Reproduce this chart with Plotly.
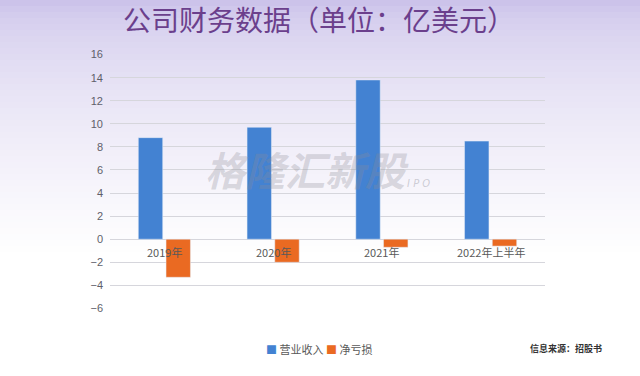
import plotly.graph_objects as go

categories = ["2019年", "2020年", "2021年", "2022年上半年"]
revenue = [8.8, 9.7, 13.8, 8.5]
net_loss = [-3.3, -2.0, -0.7, -0.6]
series_names = ["营业收入", "净亏损"]
y_ticks = [-6, -4, -2, 0, 2, 4, 6, 8, 10, 12, 14, 16]

BLUE = "#4382d2"
ORANGE = "#ea6a22"
FONT = "Noto Sans CJK SC"

W, H = 640, 376
ML, MR, MT, MB = 110, 95, 54, 67
PH = H - MT - MB
PW = W - ML - MR

fig = go.Figure()
fig.add_trace(go.Bar(x=categories, y=revenue, name=series_names[0], marker_color=BLUE))
fig.add_trace(go.Bar(x=categories, y=net_loss, name=series_names[1], marker_color=ORANGE))

# background gradient (lavender at top fading to white)
shapes = []
top = (198, 188, 232)
step = 6
for py in range(0, 260, step):
    t = min(1.0, (py + step / 2) / 255) ** 0.5
    col = tuple(int(c + (255 - c) * t) for c in top)
    y1 = (H - MB - py) / PH
    y0 = (H - MB - py - step - 0.5) / PH
    shapes.append(dict(type="rect", xref="paper", yref="paper",
                       x0=-ML / PW, x1=1 + MR / PW,
                       y0=y0, y1=y1, fillcolor=f"rgb{col}",
                       line_width=0, layer="below"))

annotations = []
for c in categories:
    annotations.append(dict(x=c, y=0, xref="x", yref="y", text=c, showarrow=False,
                            yshift=-13, font=dict(family=FONT, size=11, color="#595959")))
annotations.append(dict(x=0.48, y=(H - MB - 19) / PH, xref="paper", yref="paper",
                        yanchor="middle", text="公司财务数据（单位：亿美元）", showarrow=False,
                        font=dict(family=FONT, size=28, color="#6b3f8c")))
annotations.append(dict(x=(307 - ML) / PW, y=(H - MB - 169) / PH, xref="paper", yref="paper",
                        text="<i><b>格隆汇新股</b></i>", showarrow=False,
                        font=dict(family=FONT, size=40, color="rgba(140,140,150,0.30)")))
annotations.append(dict(x=(432 - ML) / PW, y=(H - MB - 183) / PH, xref="paper", yref="paper",
                        text="<i>I P O</i>", showarrow=False,
                        font=dict(family="DejaVu Sans", size=10, color="rgba(140,140,150,0.40)")))
annotations.append(dict(x=0.48, y=-0.155, xref="paper", yref="paper", yanchor="middle",
                        text=f"<span style='color:{BLUE}'>■</span> {series_names[0]} "
                             f"<span style='color:{ORANGE}'>■</span> {series_names[1]}",
                        showarrow=False, font=dict(family=FONT, size=11, color="#595959")))
annotations.append(dict(x=1.135, y=-0.19, xref="paper", yref="paper", xanchor="right",
                        text="<b>信息来源：招股书</b>", showarrow=False,
                        font=dict(family=FONT, size=9, color="#333333")))

fig.update_layout(
    width=W, height=H,
    margin=dict(l=ML, r=MR, t=MT, b=MB),
    paper_bgcolor="white", plot_bgcolor="rgba(0,0,0,0)",
    barmode="group", bargap=0.49, bargroupgap=0.12,
    showlegend=False,
    shapes=shapes,
    annotations=annotations,
    xaxis=dict(showticklabels=False, showgrid=False, zeroline=False, showline=False),
    yaxis=dict(range=[-6.05, 16.05], tickvals=y_ticks, showgrid=True, gridcolor="#d6d6dc",
               gridwidth=1, zeroline=True, zerolinecolor="#d6d6dc", zerolinewidth=1,
               tickfont=dict(family="Liberation Sans", size=11, color="#5f5f6a"),
               ticklabelstandoff=6),
)

fig.write_html("out.html", config={"displayModeBar": False},
               post_script="document.body.style.margin='0';")
